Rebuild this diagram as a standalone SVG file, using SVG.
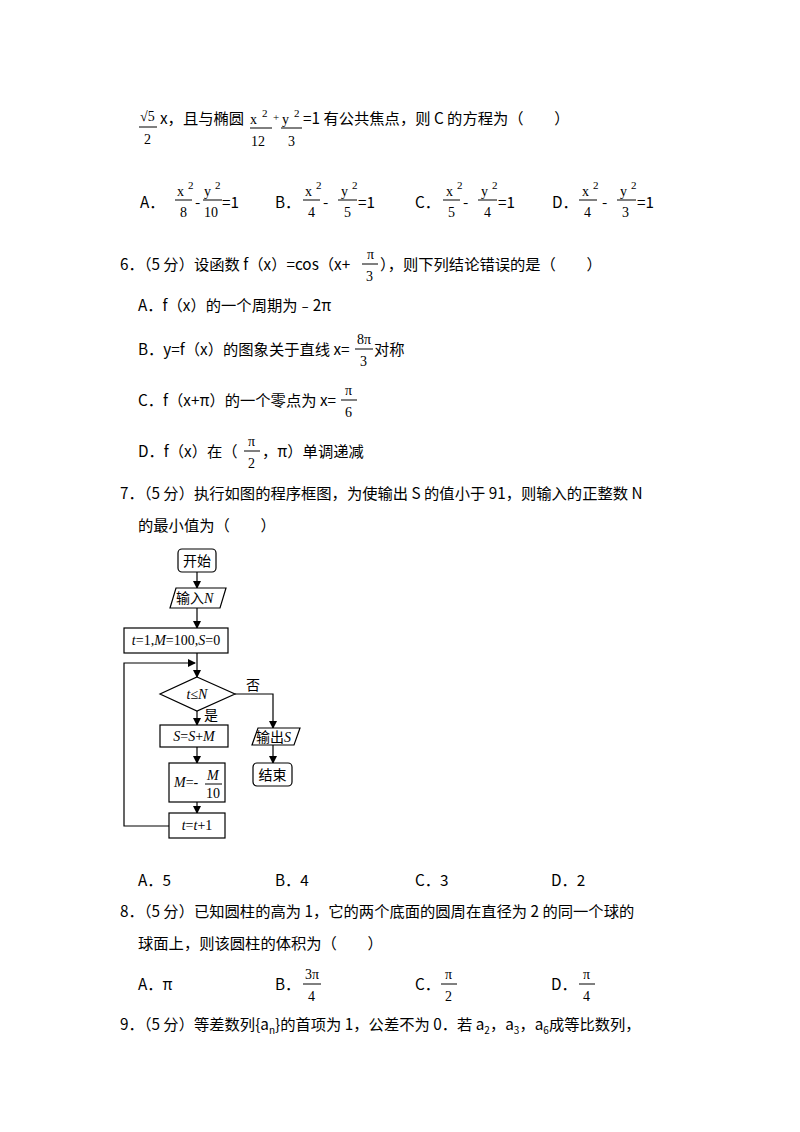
<svg xmlns="http://www.w3.org/2000/svg" width="800" height="1132" viewBox="0 0 800 1132">
<style>
text{font-family:"Noto Sans CJK SC","Noto Sans",sans-serif;font-size:15.3px;fill:#000}
.m{font-family:"Liberation Serif",serif;font-size:14px}
.s{font-family:"Liberation Serif",serif;font-size:11px}
.f{font-family:"Liberation Serif","Noto Sans CJK SC",serif;font-size:14px;font-style:italic}
.c{font-family:"Noto Sans CJK SC",sans-serif;font-size:14px}
.b{fill:#fff;stroke:#000;stroke-width:1.2}
.l{stroke:#000;stroke-width:1.2;fill:none}
.fl{stroke:#000;stroke-width:1}
</style>
<defs><marker id="a" markerWidth="8" markerHeight="8" refX="7" refY="4" orient="auto" markerUnits="userSpaceOnUse"><path d="M0,0L8,4L0,8z"/></marker></defs>
<text class="m" x="140" y="121">√5</text><line class="fl" x1="139" y1="127" x2="157" y2="127"/><text class="m" x="144" y="144">2</text>
<text x="160" y="124">x，且与椭圆</text>
<text class="m" x="250" y="124">x</text><text class="s" x="262" y="117">2</text><line class="fl" x1="250" y1="128" x2="272" y2="128"/><text class="m" x="251" y="146">12</text>
<text class="s" x="273" y="121">+</text>
<text class="m" x="282" y="124">y</text><text class="s" x="294" y="117">2</text><line class="fl" x1="281" y1="128" x2="302" y2="128"/><text class="m" x="288" y="146">3</text>
<text x="303" y="124">=1 有公共焦点，则 C 的方程为（　　）</text>
<text x="140" y="208">A．</text>
<text class="m" x="177" y="196">x</text><text class="s" x="188" y="189">2</text><line class="fl" x1="175" y1="200" x2="192" y2="200"/><text class="m" x="180" y="217">8</text>
<text x="195" y="208">-</text>
<text class="m" x="204" y="196">y</text><text class="s" x="215" y="189">2</text><line class="fl" x1="203" y1="200" x2="222" y2="200"/><text class="m" x="204" y="217">10</text>
<text x="222" y="208">=1</text>
<text x="275" y="208">B．</text>
<text class="m" x="305" y="196">x</text><text class="s" x="316" y="189">2</text><line class="fl" x1="303" y1="200" x2="320" y2="200"/><text class="m" x="308" y="217">4</text>
<text x="323" y="208">-</text>
<text class="m" x="341" y="196">y</text><text class="s" x="352" y="189">2</text><line class="fl" x1="338" y1="200" x2="357" y2="200"/><text class="m" x="344" y="217">5</text>
<text x="358" y="208">=1</text>
<text x="415" y="208">C．</text>
<text class="m" x="446" y="196">x</text><text class="s" x="457" y="189">2</text><line class="fl" x1="443" y1="200" x2="460" y2="200"/><text class="m" x="448" y="217">5</text>
<text x="463" y="208">-</text>
<text class="m" x="481" y="196">y</text><text class="s" x="492" y="189">2</text><line class="fl" x1="478" y1="200" x2="497" y2="200"/><text class="m" x="484" y="217">4</text>
<text x="498" y="208">=1</text>
<text x="552" y="208">D．</text>
<text class="m" x="582" y="196">x</text><text class="s" x="593" y="189">2</text><line class="fl" x1="579" y1="200" x2="597" y2="200"/><text class="m" x="584" y="217">4</text>
<text x="602" y="208">-</text>
<text class="m" x="620" y="196">y</text><text class="s" x="631" y="189">2</text><line class="fl" x1="617" y1="200" x2="636" y2="200"/><text class="m" x="622" y="217">3</text>
<text x="637" y="208">=1</text>
<text x="120" y="270">6．（5 分）设函数 f（x）=cos（x+</text>
<text class="m" x="367" y="259">π</text><line class="fl" x1="362" y1="264" x2="378" y2="264"/><text class="m" x="366" y="281">3</text>
<text x="380" y="270">），则下列结论错误的是（　　）</text>
<text x="138" y="311">A．f（x）的一个周期为﹣2π</text>
<text x="138" y="355">B．y=f（x）的图象关于直线 x=</text>
<text class="m" x="357" y="344">8π</text><line class="fl" x1="355" y1="349" x2="373" y2="349"/><text class="m" x="360" y="366">3</text>
<text x="374" y="355">对称</text>
<text x="138" y="406">C．f（x+π）的一个零点为 x=</text>
<text class="m" x="345" y="395">π</text><line class="fl" x1="341" y1="400" x2="357" y2="400"/><text class="m" x="345" y="417">6</text>
<text x="138" y="457">D．f（x）在（</text>
<text class="m" x="248" y="446">π</text><line class="fl" x1="244" y1="451" x2="260" y2="451"/><text class="m" x="248" y="468">2</text>
<text x="262" y="457">，π）单调递减</text>
<text x="120" y="499">7．（5 分）执行如图的程序框图，为使输出 S 的值小于 91，则输入的正整数 N</text>
<text x="138" y="531">的最小值为（　　）</text>
<g id="edges">
<line class="l" x1="197" y1="572" x2="197" y2="588" marker-end="url(#a)"/>
<line class="l" x1="197" y1="608" x2="197" y2="628" marker-end="url(#a)"/>
<line class="l" x1="197" y1="653" x2="197" y2="677" marker-end="url(#a)"/>
<line class="l" x1="197" y1="711" x2="197" y2="725" marker-end="url(#a)"/>
<line class="l" x1="197" y1="747" x2="197" y2="763" marker-end="url(#a)"/>
<line class="l" x1="197" y1="802" x2="197" y2="813" marker-end="url(#a)"/>
<polyline class="l" points="169,826 124,826 124,663 195,663" marker-end="url(#a)"/>
<polyline class="l" points="235,694 273,694 273,728" marker-end="url(#a)"/>
<line class="l" x1="273" y1="745" x2="273" y2="763" marker-end="url(#a)"/>
<text class="c" x="246" y="690">否</text>
<text class="c" x="204" y="720">是</text>
</g>
<g id="start"><rect class="b" x="178" y="549" width="38" height="23" rx="4"/><text class="c" x="197" y="566" text-anchor="middle">开始</text></g>
<g id="input"><polygon class="b" points="176,588 226,588 220,608 170,608"/><text class="c" x="176" y="603">输入<tspan class="f">N</tspan></text></g>
<g id="init"><rect class="b" x="124" y="628" width="104" height="25"/><text class="f" x="176" y="645" text-anchor="middle">t<tspan font-style="normal">=1,</tspan>M<tspan font-style="normal">=100,</tspan>S<tspan font-style="normal">=0</tspan></text></g>
<g id="cond"><polygon class="b" points="197,677 235,694 197,711 160,694"/><text class="f" x="197" y="699" text-anchor="middle">t<tspan font-style="normal">≤</tspan>N</text></g>
<g id="sum"><rect class="b" x="160" y="725" width="68" height="22"/><text class="f" x="194" y="741" text-anchor="middle">S<tspan font-style="normal">=</tspan>S<tspan font-style="normal">+</tspan>M</text></g>
<g id="mupd"><rect class="b" x="169" y="763" width="56" height="39"/><text class="f" x="174" y="787">M<tspan font-style="normal">=-</tspan></text><text class="f" x="207" y="780">M</text><line class="fl" x1="205" y1="784" x2="222" y2="784"/><text class="m" x="206" y="798" font-size="13">10</text></g>
<g id="inc"><rect class="b" x="169" y="813" width="56" height="25"/><text class="f" x="197" y="830" text-anchor="middle">t<tspan font-style="normal">=</tspan>t<tspan font-style="normal">+1</tspan></text></g>
<g id="output"><polygon class="b" points="258,728 300,728 294,745 252,745"/><text class="c" x="256" y="742">输出<tspan class="f">S</tspan></text></g>
<g id="end"><rect class="b" x="253" y="763" width="39" height="23" rx="4"/><text class="c" x="272.5" y="780" text-anchor="middle">结束</text></g>
<text x="138" y="886">A．5</text><text x="275" y="886">B．4</text><text x="415" y="886">C．3</text><text x="551" y="886">D．2</text>
<text x="120" y="917">8．（5 分）已知圆柱的高为 1，它的两个底面的圆周在直径为 2 的同一个球的</text>
<text x="138" y="949">球面上，则该圆柱的体积为（　　）</text>
<text x="138" y="990">A．π</text>
<text x="275" y="990">B．</text>
<text class="m" x="305" y="979">3π</text><line class="fl" x1="303" y1="984" x2="321" y2="984"/><text class="m" x="308" y="1001">4</text>
<text x="415" y="990">C．</text>
<text class="m" x="445" y="979">π</text><line class="fl" x1="441" y1="984" x2="457" y2="984"/><text class="m" x="445" y="1001">2</text>
<text x="551" y="990">D．</text>
<text class="m" x="583" y="979">π</text><line class="fl" x1="579" y1="984" x2="595" y2="984"/><text class="m" x="583" y="1001">4</text>
<text x="120" y="1030">9．（5 分）等差数列{a<tspan font-size="10" dy="4">n</tspan><tspan dy="-4">}的首项为 1，公差不为 0．若 a</tspan><tspan font-size="10" dy="4">2</tspan><tspan dy="-4">，a</tspan><tspan font-size="10" dy="4">3</tspan><tspan dy="-4">，a</tspan><tspan font-size="10" dy="4">6</tspan><tspan dy="-4">成等比数列，</tspan></text>
</svg>
